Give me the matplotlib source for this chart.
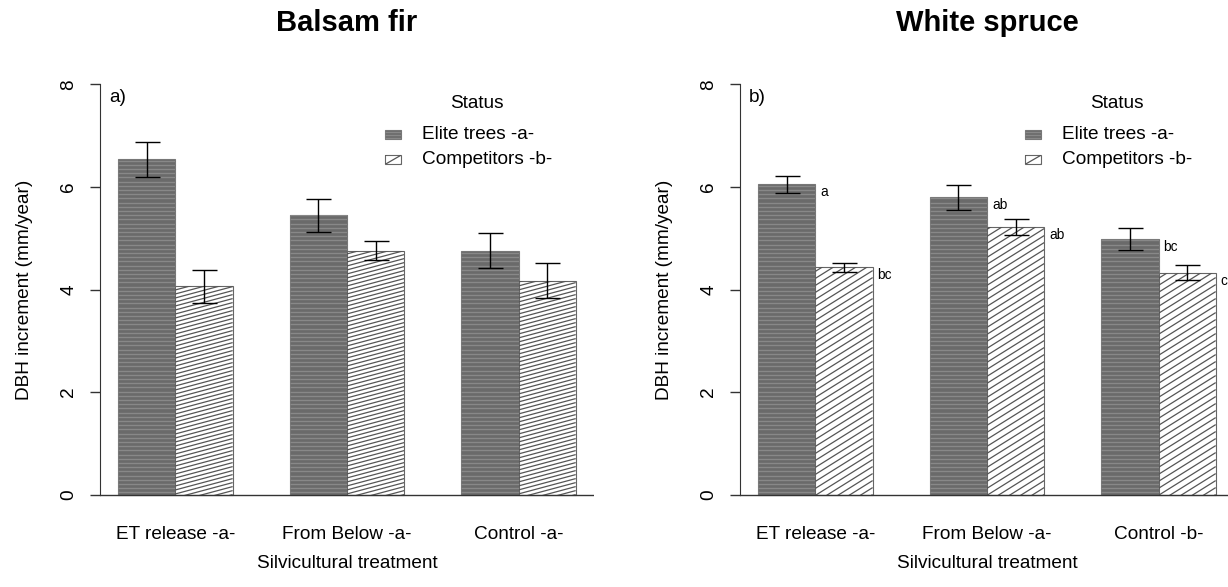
import numpy as np
import matplotlib
matplotlib.use("Agg")
import matplotlib.pyplot as plt
from matplotlib.patches import Rectangle
from matplotlib.collections import LineCollection
from matplotlib.transforms import IdentityTransform

plt.rcParams['font.family'] = ['Liberation Sans', 'DejaVu Sans']

treatments_left = ["ET release -a-", "From Below -a-", "Control -a-"]
treatments_right = ["ET release -a-", "From Below -a-", "Control -b-"]
titles = ["Balsam fir", "White spruce"]
panel_tags = ["a)", "b)"]
status_labels = ["Elite trees -a-", "Competitors -b-"]

fir_elite = [6.54, 5.45, 4.76]
fir_elite_se = [0.34, 0.32, 0.34]
fir_comp = [4.06, 4.76, 4.17]
fir_comp_se = [0.32, 0.19, 0.34]

spruce_elite = [6.05, 5.80, 4.99]
spruce_elite_se = [0.17, 0.24, 0.21]
spruce_comp = [4.43, 5.22, 4.33]
spruce_comp_se = [0.08, 0.16, 0.14]
spruce_elite_letters = ["a", "ab", "bc"]
spruce_comp_letters = ["bc", "ab", "c"]

yticks = [0, 2, 4, 6, 8]

W, H = 1228, 587
fig = plt.figure(figsize=(W / 100, H / 100), dpi=100)

FS = 13.7
ELITE_FACE = "#6a6a6a"
ELITE_LINE = "#888888"
HATCH_COL = "#555555"


def px_axes(left_px):
    return [left_px / W, (H - 511) / H, 494 / W, 443 / H]


def hatch_lines(ax, patch, angle_deg, spacing_px, color, lw):
    bb = patch.get_window_extent()
    x0, y0, x1, y1 = bb.x0, bb.y0, bb.x1, bb.y1
    segs = []
    if angle_deg == 0:
        y = y0 + spacing_px / 2
        while y < y1:
            segs.append([(x0, y), (x1, y)])
            y += spacing_px
    else:
        t = np.tan(np.radians(angle_deg))
        c = y0 - x1 * t
        cmax = y1 - x0 * t
        while c < cmax:
            segs.append([(x0, x0 * t + c), (x1, x1 * t + c)])
            c += spacing_px
    lc = LineCollection(segs, colors=color, linewidths=lw, transform=IdentityTransform(),
                        zorder=patch.get_zorder() + 0.1)
    ax.add_collection(lc, autolim=False)
    lc.set_clip_path(patch.get_path(), patch.get_transform())
    lc.set_clip_box(None)


def draw_panel(left_px, title, tag, cats, elite, elite_se, comp, comp_se,
               comp_angle, comp_spacing, letters_e=None, letters_c=None):
    ax = fig.add_axes(px_axes(left_px))
    ax.set_xlim(0.68, 9.32)
    ax.set_ylim(-0.32, 8.32)
    n = len(cats)
    xe = np.arange(n) * 3 + 1.5
    xc = xe + 1.0
    be = ax.bar(xe, elite, width=1.0, color=ELITE_FACE, edgecolor="#777777", linewidth=0.8, zorder=2)
    bc = ax.bar(xc, comp, width=1.0, color="white", edgecolor="#666666", linewidth=0.8, zorder=2)
    for p in be:
        hatch_lines(ax, p, 0, 4.2, ELITE_LINE, 1.0)
    for p in bc:
        hatch_lines(ax, p, comp_angle, comp_spacing, HATCH_COL, 0.9)
    ax.errorbar(xe, elite, yerr=elite_se, fmt="none", ecolor="black", elinewidth=1.0,
                capsize=9, capthick=1.0, zorder=4)
    ax.errorbar(xc, comp, yerr=comp_se, fmt="none", ecolor="black", elinewidth=1.0,
                capsize=9, capthick=1.0, zorder=4)
    ax.axhline(0, color="#333333", linewidth=1.0, zorder=3)

    if letters_e is not None:
        for x, v, s in zip(xe, elite, letters_e):
            ax.annotate(s, xy=(x + 0.5, v), xytext=(5, -8), textcoords="offset pixels",
                        ha="left", va="center", fontsize=9.8)
        for x, v, s in zip(xc, comp, letters_c):
            ax.annotate(s, xy=(x + 0.5, v), xytext=(5, -8), textcoords="offset pixels",
                        ha="left", va="center", fontsize=9.8)

    for s in ["top", "right", "bottom"]:
        ax.spines[s].set_visible(False)
    ax.spines["left"].set_bounds(0, 8)
    ax.spines["left"].set_color("#333333")
    ax.set_yticks(yticks)
    ax.set_yticklabels([str(t) for t in yticks], rotation=90, va="center", fontsize=FS)
    ax.tick_params(axis="y", length=7.2, width=1.0, color="#333333", pad=9)
    ax.set_xticks((xe + xc) / 2)
    ax.set_xticklabels(cats, fontsize=FS)
    ax.tick_params(axis="x", length=0, pad=11)

    ax.text(0.5, -0.1185, "Silvicultural treatment", transform=ax.transAxes,
            ha="center", va="center", fontsize=FS)
    ax.text(-0.152, 0.5, "DBH increment (mm/year)", transform=ax.transAxes,
            ha="center", va="center", rotation=90, fontsize=FS)
    ax.text(0.5, 1.1016, title, transform=ax.transAxes, ha="center", va="center",
            fontsize=21, fontweight="bold")
    ax.text(0.018, 0.9345, tag, transform=ax.transAxes, ha="left", va="center", fontsize=FS)

    # legend
    ax.text(0.763, 0.919, "Status", transform=ax.transAxes, ha="center", va="center", fontsize=FS)
    ys = [0.849, 0.793]
    for i, (lab, y) in enumerate(zip(status_labels, ys)):
        bw, bh = 16 / 494, 9 / 443
        bx = 285 / 494
        if i == 0:
            r = Rectangle((bx, y - bh / 2), bw, bh, transform=ax.transAxes,
                          facecolor=ELITE_FACE, edgecolor="#777777", linewidth=0.8,
                          clip_on=False, zorder=2)
            ax.add_patch(r)
            hatch_lines(ax, r, 0, 3.0, ELITE_LINE, 1.0)
        else:
            r = Rectangle((bx, y - bh / 2), bw, bh, transform=ax.transAxes,
                          facecolor="white", edgecolor="#666666", linewidth=0.8,
                          clip_on=False, zorder=2)
            ax.add_patch(r)
            hatch_lines(ax, r, 30, 9.0, HATCH_COL, 0.9)
        ax.text(322 / 494, y, lab, transform=ax.transAxes, ha="left", va="center", fontsize=FS)
    return ax


draw_panel(100, titles[0], panel_tags[0], treatments_left, fir_elite, fir_elite_se,
           fir_comp, fir_comp_se, 15, 4.0)
draw_panel(740, titles[1], panel_tags[1], treatments_right, spruce_elite, spruce_elite_se,
           spruce_comp, spruce_comp_se, 32, 7.0, spruce_elite_letters, spruce_comp_letters)

fig.savefig("out.png", dpi=100)
